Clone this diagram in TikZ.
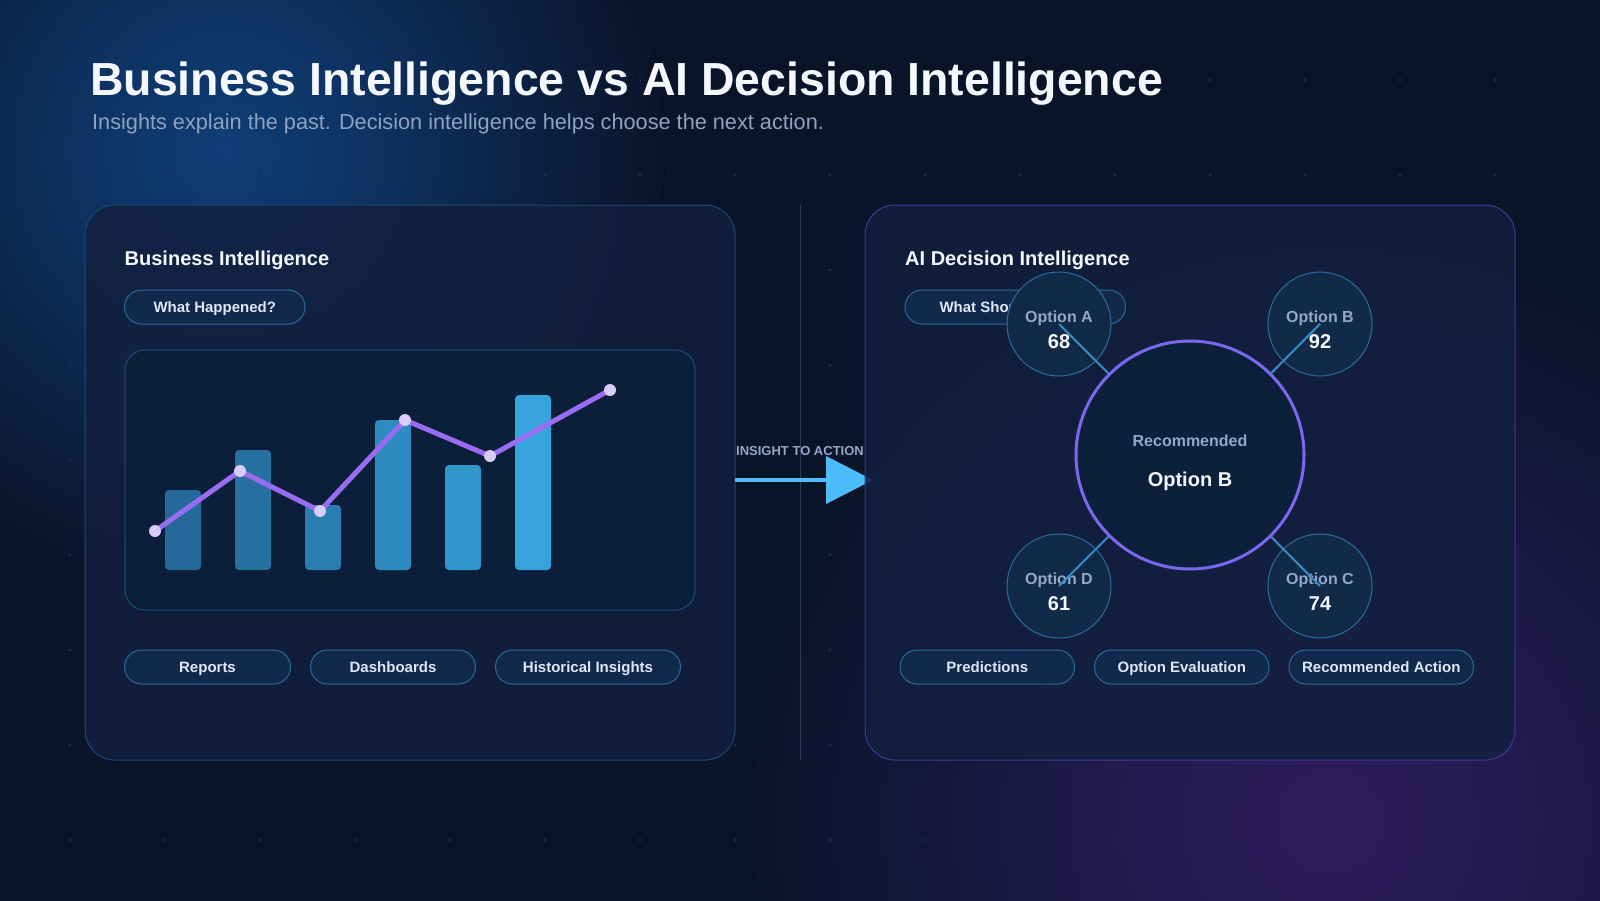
\documentclass[tikz,border=0pt]{standalone}
\usepackage{fontspec}
\setmainfont{Liberation Sans}
\usepackage{tikz}
\usetikzlibrary{positioning, arrows.meta, shapes.geometric}

\definecolor{bgc}{HTML}{0A1429}
\definecolor{glowA}{HTML}{0F3D76}
\definecolor{glowB}{HTML}{2D1D5E}
\definecolor{gridc}{HTML}{1C2D4C}
\definecolor{panelfill}{HTML}{12203F}
\definecolor{panelline}{HTML}{1E4870}
\definecolor{panellineR}{HTML}{3D3A92}
\definecolor{chartfill}{HTML}{0B1F3A}
\definecolor{chartline}{HTML}{1E4F7A}
\definecolor{pillfill}{HTML}{11294A}
\definecolor{pillline}{HTML}{2A6A9A}
\definecolor{pilltext}{HTML}{DDE8F6}
\definecolor{muted}{HTML}{93A7C6}
\definecolor{titlec}{HTML}{F4F7FB}
\definecolor{subc}{HTML}{8EA2C1}
\definecolor{barA}{HTML}{24699A}
\definecolor{barB}{HTML}{26719F}
\definecolor{barC}{HTML}{2A7DB0}
\definecolor{barD}{HTML}{2E8BC0}
\definecolor{barE}{HTML}{3194CB}
\definecolor{barF}{HTML}{36A3DD}
\definecolor{trendc}{HTML}{9A6CF2}
\definecolor{dotc}{HTML}{D9CBFA}
\definecolor{optfill}{HTML}{112A48}
\definecolor{optline}{HTML}{2B6E9E}
\definecolor{recline}{HTML}{7B68EE}
\definecolor{recfill}{HTML}{0C1F3B}
\definecolor{linkc}{HTML}{3A8CC8}
\definecolor{arrowc}{HTML}{4CBDF8}
\definecolor{divc}{HTML}{2A3A58}

\pgfdeclareradialshading{glowblue}{\pgfpoint{0bp}{0bp}}{color(0bp)=(glowA); color(8bp)=(glowA!75!bgc); color(25bp)=(bgc); color(50bp)=(bgc)}
\pgfdeclareradialshading{glowpurple}{\pgfpoint{0bp}{0bp}}{color(0bp)=(glowB); color(9bp)=(glowB!70!bgc); color(25bp)=(bgc); color(50bp)=(bgc)}

\begin{document}
\begin{tikzpicture}[x=1pt, y=-1pt, node distance=20pt, auto]
    % スタイル
    \tikzstyle{panel} = [rectangle, draw=panelline, line width=1pt, fill=panelfill, fill opacity=0.86, rounded corners=30pt, minimum width=650pt, minimum height=555pt]
    \tikzstyle{header} = [anchor=base west, inner sep=0pt, text=titlec, font=\bfseries\fontsize{20}{24}\selectfont]
    \tikzstyle{pill} = [rectangle, draw=pillline, line width=1pt, fill=pillfill, rounded corners=17pt, minimum height=34pt, inner sep=0pt, outer sep=0pt, text=pilltext, text height=10.7pt, text depth=0pt, font=\bfseries\fontsize{15}{18}\selectfont]
    \tikzstyle{chartbox} = [rectangle, draw=chartline, line width=1pt, fill=chartfill, rounded corners=20pt, minimum width=570pt, minimum height=260pt]
    \tikzstyle{trend} = [draw=trendc, line width=5pt, line join=round, line cap=round]
    \tikzstyle{optcircle} = [circle, draw=optline, line width=1pt, fill=optfill, minimum size=104pt, inner sep=0pt]
    \tikzstyle{bigcircle} = [circle, draw=recline, line width=3pt, fill=recfill, minimum size=228pt, inner sep=0pt]
    \tikzstyle{optname} = [anchor=base, inner sep=0pt, text=muted, font=\bfseries\fontsize{16}{19}\selectfont]
    \tikzstyle{optval} = [anchor=base, inner sep=0pt, text=titlec, font=\bfseries\fontsize{20}{24}\selectfont]
    \tikzstyle{link} = [draw=linkc, line width=2pt]
    \tikzstyle{flow} = [draw=arrowc, line width=4pt, -{Triangle[length=47pt, width=47pt]}]

    \useasboundingbox (0,0) rectangle (1600,900);

    % 背景
    \begin{scope}
        \clip (-10,-10) rectangle (1610,910);
        \fill[bgc] (-10,-10) rectangle (1610,910);
        \fill[shading=glowblue] (225,150) circle (440);
        \fill[shading=glowpurple] (1330,820) circle (580);
        \foreach \i in {0,...,15}
            \foreach \j in {0,...,8}
                \fill[gridc] (70+95*\i, 80+95*\j) circle (1.6);
    \end{scope}

    % 見出し
    \node[anchor=base west, inner sep=0pt, text=titlec, font=\bfseries\fontsize{46.4}{54}\selectfont] (title) at (90,95) {Business Intelligence vs AI Decision Intelligence};
    \node[anchor=base west, inner sep=0pt, text=subc, font=\fontsize{21.7}{26}\selectfont] (subtitle) at (92,129.5) {Insights explain the past. Decision intelligence helps choose the next action.};

    % 左パネル
    \node[panel] (biPanel) at (410,482.5) {};
    \node[header] (biHead) at (124.5,265.5) {Business Intelligence};
    \node[pill, minimum width=180.5pt] (happened) at (214.75,307) {What Happened?};
    \node[chartbox] (chart) at (410,480) {};
    \foreach \bx/\btop/\bc in {165/490/barA, 235/450/barB, 305/505/barC, 375/420/barD, 445/465/barE, 515/395/barF}
        \fill[\bc, rounded corners=4pt] (\bx,570) rectangle (\bx+36,\btop);
    \draw[trend] (155,531) -- (240,471) -- (320,511) -- (405,420) -- (490,456) -- (610,390);
    \foreach \px/\py in {155/531, 240/471, 320/511, 405/420, 490/456, 610/390}
        \fill[dotc] (\px,\py) circle (6);
    \node[pill, minimum width=166pt] (reports) at (207.5,667) {Reports};
    \node[pill, minimum width=165pt, right=20pt of reports] (dashboards) {Dashboards};
    \node[pill, minimum width=185pt, right=20pt of dashboards] (history) {Historical Insights};

    % 中央
    \draw[divc, line width=1pt] (800,205) -- (800,760);
    \node[anchor=base, inner sep=0pt, text=muted, font=\bfseries\fontsize{13}{16}\selectfont] (flowLbl) at (800,455) {INSIGHT TO ACTION};
    \coordinate (flowS) at (735,480);
    \coordinate (flowE) at (873,480);
    \path[flow] (flowS) -- (flowE);

    % 右パネル
    \node[panel, draw=panellineR] (aiPanel) at (1190,482.5) {};
    \node[header] (aiHead) at (905,265.5) {AI Decision Intelligence};
    \node[pill, minimum width=220.5pt] (should) at (1015.25,307) {What Should We Do?};
    \node[bigcircle] (rec) at (1190,455) {};
    \node[optname] (recLbl) at (1190,446) {Recommended};
    \node[optval] (recVal) at (1190,486) {Option B};
    \foreach \n/\ox/\oy/\v in {A/1059/324/68, B/1320/324/92, D/1059/586/61, C/1320/586/74} {
        \node[optcircle] (opt\n) at (\ox,\oy) {};
        \node[optname] (opt\n name) at (\ox,\oy-2) {Option \n};
        \node[optval] (opt\n val) at (\ox,\oy+24) {\v};
    }
    \foreach \n in {A,B,C,D}
        \path[link] (opt\n.center) -- (rec);
    \node[pill, minimum width=174.5pt] (predictions) at (987.25,667) {Predictions};
    \node[pill, minimum width=174.5pt, right=20pt of predictions] (evaluation) {Option Evaluation};
    \node[pill, minimum width=184.5pt, right=20pt of evaluation] (action) {Recommended Action};
\end{tikzpicture}
\end{document}
